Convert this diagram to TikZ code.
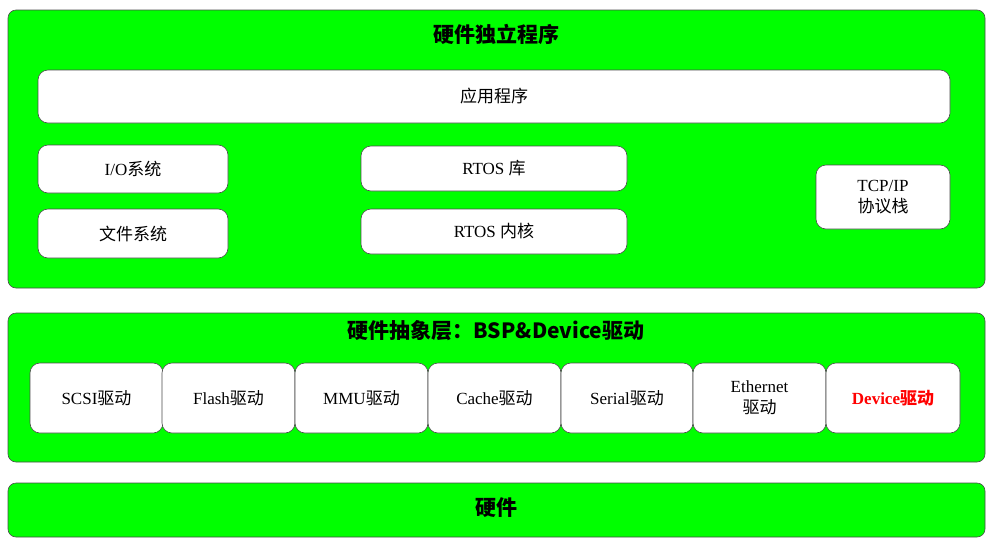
\documentclass[tikz,border=0pt]{standalone}
\usepackage{fontspec}
\setmainfont{Liberation Serif}
\newfontfamily\cjk{Noto Sans CJK SC}
\begin{document}
\begin{tikzpicture}[x=1pt,y=-1pt,
 layer/.style={draw=black!70,fill=green,rounded corners=8pt,line width=0.6pt},
 wbox/.style={draw=black!70,fill=white,rounded corners=10pt,line width=0.6pt,align=center,font=\fontsize{17}{19}\selectfont},
 ttl/.style={font=\cjk\bfseries\fontsize{21}{24}\selectfont}]
\useasboundingbox (0,0) rectangle (994,539);
\draw[layer] (8,10) rectangle (985,288);
\draw[layer] (8,313) rectangle (985,462);
\draw[layer] (8,483) rectangle (985,537);
\node[ttl] (t1) at (496,34) {硬件独立程序};
\node[ttl] (t2) at (496,331) {硬件抽象层：BSP\&Device驱动};
\node[ttl] (t3) at (496,508) {硬件};
\newcommand{\wb}[6]{\draw[wbox] (#2,#3) rectangle (#4,#5) node[midway,font=\fontsize{17}{19}\selectfont,align=center] (#1) {#6};}
\wb{app}{38}{70}{950}{123}{{\cjk 应用程序}}
\wb{io}{38}{145}{228}{193}{I/O{\cjk 系统}}
\wb{fs}{38}{209}{228}{258}{{\cjk 文件系统}}
\wb{lib}{361}{146}{627}{191}{RTOS {\cjk 库}}
\wb{kern}{361}{209}{627}{254}{RTOS {\cjk 内核}}
\wb{tcp}{816}{165}{950}{229}{TCP/IP\\[2pt]{\cjk 协议栈}}
\wb{scsi}{30}{363}{163}{433}{SCSI{\cjk 驱动}}
\wb{flash}{162}{363}{295}{433}{Flash{\cjk 驱动}}
\wb{mmu}{295}{363}{428}{433}{MMU{\cjk 驱动}}
\wb{cache}{428}{363}{561}{433}{Cache{\cjk 驱动}}
\wb{serial}{561}{363}{693}{433}{Serial{\cjk 驱动}}
\wb{eth}{693}{363}{826}{433}{Ethernet\\[2pt]{\cjk 驱动}}
\wb{dev}{826}{363}{960}{433}{\textcolor{red}{\bfseries Device{\cjk\bfseries 驱动}}}
\end{tikzpicture}
\end{document}
